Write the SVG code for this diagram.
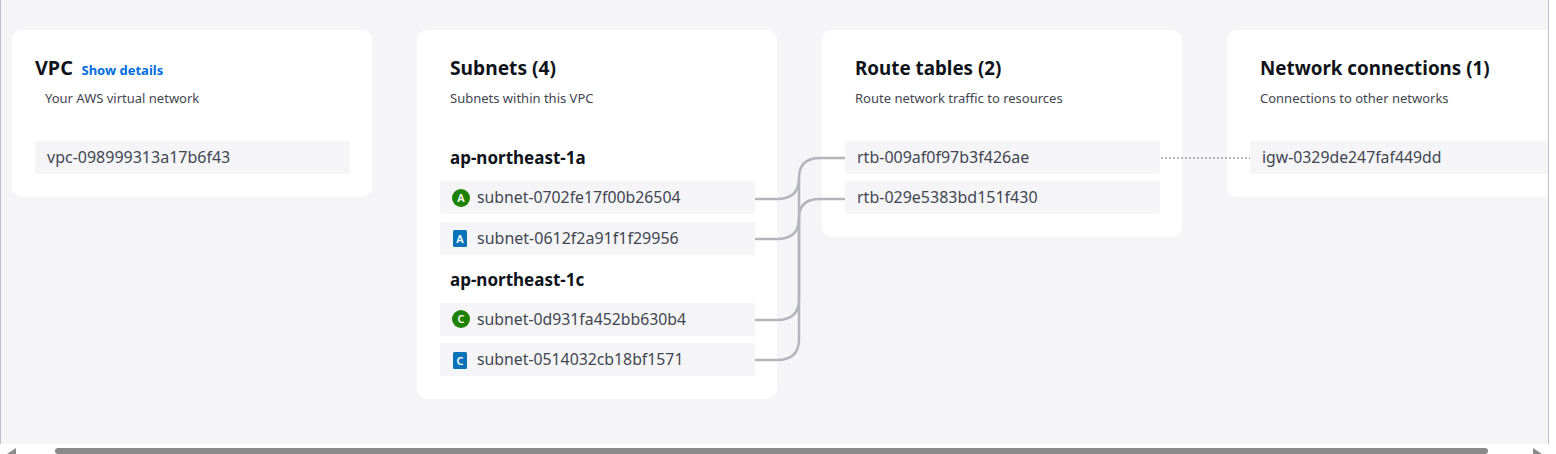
<svg xmlns="http://www.w3.org/2000/svg" width="1556" height="454" viewBox="0 0 1556 454">
<style>
text{font-family:"Noto Sans","Open Sans",sans-serif}
.card{fill:#fff}
.row{fill:#f5f5f8}
.h{font-size:18.8px;font-weight:700;fill:#0f141a}
.az{font-size:17px;font-weight:700;fill:#0f141a}
.sub{font-size:13px;fill:#424650}
.id{font-size:15.8px;fill:#424650}
.id16{font-size:16px;fill:#424650}
.link{font-size:13px;font-weight:700;fill:#006ce0}
.edge{fill:none;stroke:#b4b4bb;stroke-width:2.5}
.dot{fill:none;stroke:#b4b4bb;stroke-width:2;stroke-dasharray:2 2}
.glyph{font-size:11px;font-weight:600;fill:#fff;text-anchor:middle}
.az-a{fill:#1d8102}
.az-b{fill:#0972b8}
</style>
<rect x="0" y="0" width="1556" height="454" fill="#fff"/>
<rect x="1" y="0" width="1547" height="444" fill="#f5f5f8"/>
<rect x="0" y="0" width="1" height="444" fill="#c0c0c8"/>
<rect x="1548" y="0" width="1" height="444" fill="#c0c0c8"/>
<g id="vpc-card">
<rect class="card" x="12" y="30" width="360" height="167" rx="10"/>
<text class="h" x="35" y="74.500" style="font-size:19.8px">VPC</text>
<text class="link" x="81.500" y="75">Show details</text>
<text class="sub" x="45" y="103">Your AWS virtual network</text>
</g>
<g id="vpc-node">
<rect class="row" x="35" y="141" width="315" height="33" rx="2"/>
<text class="id16" x="47" y="163">vpc-098999313a17b6f43</text>
</g>
<g id="subnets-card">
<rect class="card" x="417" y="30" width="360" height="369" rx="10"/>
<text class="h" x="450" y="74.500" style="font-size:19.2px">Subnets (4)</text>
<text class="sub" x="450" y="103">Subnets within this VPC</text>
<text class="az" x="450" y="164">ap-northeast-1a</text>
<text class="az" x="450" y="286">ap-northeast-1c</text>
</g>
<g id="subnet-0702fe17f00b26504">
<rect class="row" x="440" y="181" width="315" height="33" rx="2"/>
<circle class="az-a" cx="461" cy="198" r="9"/>
<text class="glyph" x="461" y="202">A</text>
<text class="id" x="477" y="203">subnet-0702fe17f00b26504</text>
</g>
<g id="subnet-0612f2a91f1f29956">
<rect class="row" x="440" y="222" width="315" height="33" rx="2"/>
<rect class="az-b" x="453" y="230" width="14" height="17" rx="1.500"/>
<text class="glyph" x="460" y="242.500">A</text>
<text class="id16" x="477" y="244">subnet-0612f2a91f1f29956</text>
</g>
<g id="subnet-0d931fa452bb630b4">
<rect class="row" x="440" y="303" width="315" height="33" rx="2"/>
<circle class="az-a" cx="461" cy="319" r="9"/>
<text class="glyph" x="461" y="323">C</text>
<text class="id" x="477" y="325">subnet-0d931fa452bb630b4</text>
</g>
<g id="subnet-0514032cb18bf1571">
<rect class="row" x="440" y="343" width="315" height="33" rx="2"/>
<rect class="az-b" x="453" y="352" width="14" height="17" rx="1.500"/>
<text class="glyph" x="460" y="364.500">C</text>
<text class="id" x="477" y="365">subnet-0514032cb18bf1571</text>
</g>
<g id="route-tables-card">
<rect class="card" x="822" y="30" width="360" height="207" rx="10"/>
<text class="h" x="855" y="74.500">Route tables (2)</text>
<text class="sub" x="855" y="103">Route network traffic to resources</text>
</g>
<g id="rtb-009af0f97b3f426ae">
<rect class="row" x="845" y="141" width="315" height="33" rx="2"/>
<text class="id16" x="857" y="163">rtb-009af0f97b3f426ae</text>
</g>
<g id="rtb-029e5383bd151f430">
<rect class="row" x="845" y="181" width="315" height="33" rx="2"/>
<text class="id16" x="857" y="203">rtb-029e5383bd151f430</text>
</g>
<g id="network-connections-card">
<path class="card" d="M1548 30H1237a10 10 0 0 0-10 10V187a10 10 0 0 0 10 10H1548Z"/>
<text class="h" x="1260" y="74.500">Network connections (1)</text>
<text class="sub" x="1260" y="103">Connections to other networks</text>
</g>
<g id="igw-0329de247faf449dd">
<path class="row" d="M1548 141H1252a2 2 0 0 0-2 2V172a2 2 0 0 0 2 2H1548Z"/>
<text class="id" x="1262" y="163">igw-0329de247faf449dd</text>
</g>
<g id="connectors">
<path class="edge" d="M755 199H777C792 199 799 192 799 178C799 165 806 158 820 158H845"/>
<path class="edge" d="M755 239H777C792 239 799 232 799 218C799 205 806 199 820 199H845"/>
<path class="edge" d="M755 320H777C792 320 799 313 799 299V218"/>
<path class="edge" d="M755 360H777C792 360 799 353 799 339V178"/>
<path class="dot" d="M1161 158H1250"/>
</g>
<g id="scrollbar">
<rect x="55" y="448" width="1433" height="6" rx="3" fill="#8a8a8a"/>
<path d="M7 454L16 448V454Z" fill="#8a8a8a"/>
<path d="M1533 448L1542 454H1533Z" fill="#8a8a8a"/>
</g>
</svg>
